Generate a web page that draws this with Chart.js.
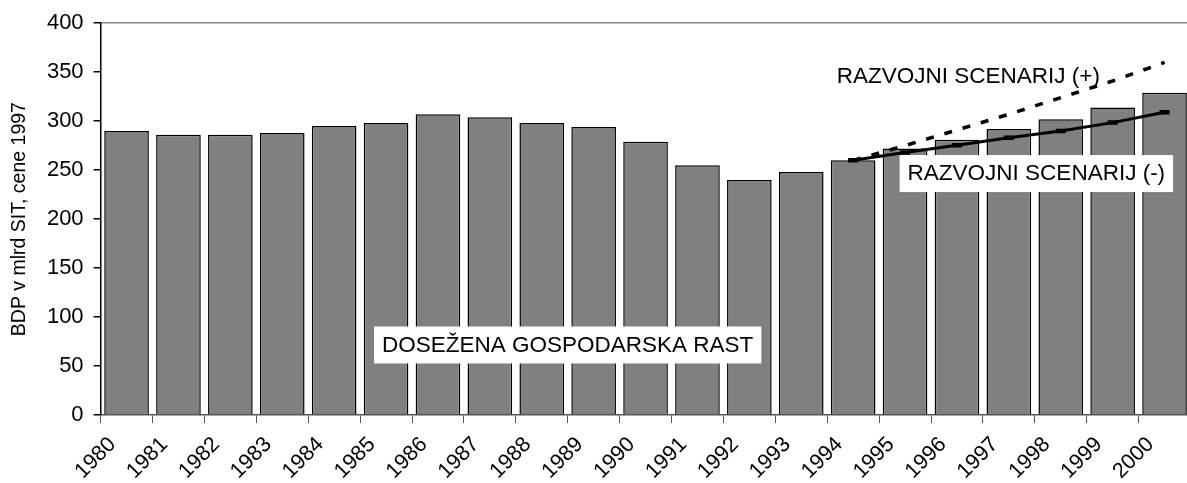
<!DOCTYPE html>
<html>
<head>
<meta charset="utf-8">
<script src="https://cdn.jsdelivr.net/npm/chart.js@4/dist/chart.umd.min.js"></script>
<style>
    body { margin: 0; background: #fff; overflow: hidden; }
    #wrap { width: 1187px; height: 483px; overflow: hidden; }
</style>
</head>
<body>
<div id="wrap"><canvas id="gdp" width="1200" height="483"></canvas></div>
<script>
const years = ['1980', '1981', '1982', '1983', '1984', '1985', '1986', '1987', '1988', '1989', '1990',
    '1991', '1992', '1993', '1994', '1995', '1996', '1997', '1998', '1999', '2000']

// dosezena rast (stolpci)
const gdpValues = [290, 286, 286, 288, 295, 298, 307, 304, 298, 294, 279,
    255, 240, 248, 260, 272, 281, 292, 302, 314, 329]

// scenarija od 1994 naprej
const scenarioPlus = [null, null, null, null, null, null, null, null, null, null, null,
    null, null, null, 260, 275, 291, 307, 324, 341, 360]
const scenarioMinus = [null, null, null, null, null, null, null, null, null, null, null,
    null, null, null, 260, 268, 275.5, 283, 290, 298.5, 309]

const yTicks = [0, 50, 100, 150, 200, 250, 300, 350, 400]

const FONT = "'Liberation Sans', Arial, sans-serif"

/** text labels placed with the chart scales (category index, value) */
const notes = [
    { text: 'DOSEŽENA GOSPODARSKA RAST', at: 8.5, value: 72, box: true },
    { text: 'RAZVOJNI SCENARIJ (+)', at: 16.22, value: 346.5, box: false },
    { text: 'RAZVOJNI SCENARIJ (-)', at: 17.53, value: 247, box: true }
]

const notesPlugin = {
    id: 'notes',
    afterDatasetsDraw(chart) {
        const ctx = chart.ctx
        const x = chart.scales.x
        const y = chart.scales.y
        ctx.save()
        ctx.font = `22.5px ${FONT}`
        ctx.textAlign = 'center'
        ctx.textBaseline = 'middle'
        notes.forEach(n => {
            const cx = x.getPixelForValue(n.at)
            const cy = y.getPixelForValue(n.value)
            const w = ctx.measureText(n.text).width
            if (n.box) {
                ctx.fillStyle = '#fff'
                ctx.fillRect(cx - w / 2 - 8, cy - 18, w + 16, 37)
            }
            ctx.fillStyle = '#000'
            ctx.fillText(n.text, cx, cy + 1)
        })
        ctx.restore()
    }
}

const ctx = document.getElementById('gdp').getContext('2d')
new Chart(ctx, {
    type: 'bar',
    data: {
        labels: years,
        datasets: [{
            type: 'line',
            data: scenarioPlus,
            borderColor: '#000',
            borderWidth: 3.5,
            borderDash: [8, 11],
            pointRadius: 0,
            fill: false,
            order: 1
        }, {
            type: 'line',
            data: scenarioMinus,
            borderColor: '#000',
            borderWidth: 3,
            pointStyle: 'line',
            pointRadius: 5,
            pointBorderWidth: 4.5,
            pointBorderColor: '#000',
            fill: false,
            order: 0
        }, {
            data: gdpValues,
            backgroundColor: '#808080',
            borderColor: '#000',
            borderWidth: 1.5,
            barPercentage: 0.86,
            categoryPercentage: 1,
            order: 2
        }]
    },
    options: {
        responsive: false,
        animation: false,
        layout: { padding: { left: 4, right: 3.5, top: 10, bottom: 2 } },
        plugins: {
            legend: { display: false },
            tooltip: { enabled: false }
        },
        scales: {
            x: {
                offset: true,
                afterFit: scale => { scale.height = 66 },
                grid: {
                    offset: true,
                    drawOnChartArea: false,
                    tickLength: 8,
                    tickColor: '#555'
                },
                border: { color: '#555', width: 1.5 },
                ticks: {
                    color: '#000',
                    font: { family: FONT, size: 21.5 },
                    minRotation: 45,
                    maxRotation: 45,
                    labelOffset: -14,
                    padding: 9
                }
            },
            y: {
                min: 0,
                max: 400,
                afterBuildTicks: axis => {
                    axis.ticks = yTicks.map(v => ({ value: v }))
                },
                grid: {
                    color: c => c.tick && c.tick.value === 400 ? '#888' : 'rgba(0,0,0,0)',
                    lineWidth: 1.5,
                    tickLength: 7,
                    tickColor: '#000'
                },
                border: { color: '#000', width: 1.5 },
                ticks: {
                    color: '#000',
                    font: { family: FONT, size: 22 },
                    padding: 10
                },
                title: {
                    display: true,
                    text: 'BDP v mlrd SIT, cene 1997',
                    color: '#000',
                    font: { family: FONT, size: 19.5 },
                    padding: { top: 4, bottom: 5.5 }
                }
            }
        }
    },
    plugins: [notesPlugin]
})
</script>
</body>
</html>
